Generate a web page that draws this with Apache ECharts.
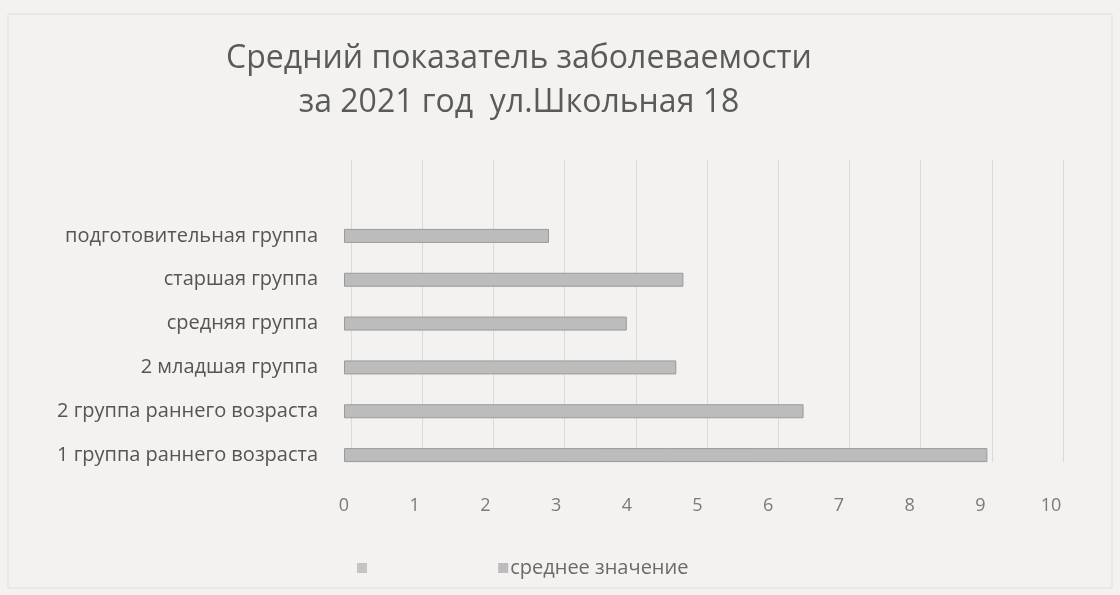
<!DOCTYPE html>
<html><head><meta charset="utf-8">
<script src="https://cdn.jsdelivr.net/npm/echarts@6/dist/echarts.min.js"></script>
<style>html,body{margin:0;padding:0;background:#f3f2f0;}#c{width:1120px;height:595px;}</style>
</head><body><div id="c"></div>
<script>
const categories = ['1 группа раннего возраста','2 группа раннего возраста','2 младшая группа','средняя группа','старшая группа','подготовительная группа'];
const values = [9.1, 6.5, 4.7, 4.0, 4.8, 2.9];
const seriesName = 'среднее значение';
const titleText = 'Средний показатель заболеваемости\nза 2021 год  ул.Школьная 18';
const FONT = '"Open Sans", Lato, sans-serif';

const chart = echarts.init(document.getElementById('c'));
chart.setOption({
  backgroundColor: '#f3f2f0',
  animation: false,
  title: {
    text: titleText, left: 514, textAlign: 'center', top: 32,
    textStyle: {fontFamily: FONT, fontSize: 32, fontWeight: 'normal', color: '#5a5a5a', lineHeight: 44}
  },
  graphic: [{type:'rect', shape:{x:8,y:14,width:1104,height:574}, style:{fill:'none', stroke:'#e2e0dd', lineWidth:1}, silent:true}],
  legend: {
    data: [{name: ' ', icon: 'rect'}, {name: seriesName, icon: 'rect'}], left: 352, top: 553, itemWidth: 10, itemHeight: 10, itemGap: 124,
    itemStyle: {borderWidth: 0},
    textStyle: {fontFamily: FONT, fontSize: 20, color: '#6a6a6a', padding: [0,0,0,-3]}
  },
  grid: [
    {left: 351, right: 57, top: 160, bottom: 133},
    {left: 344, right: 69, top: 214, bottom: 118}
  ],
  xAxis: [
    {gridIndex: 0, type: 'value', min: 0, max: 10, interval: 1,
     axisLabel: {show: false}, axisLine: {show: false}, axisTick: {show: false},
     splitLine: {show: true, lineStyle: {color: '#dcdad7', width: 1}}},
    {gridIndex: 1, type: 'value', min: 0, max: 10, interval: 1,
     axisLine: {show: false}, axisTick: {show: false}, splitLine: {show: false},
     axisLabel: {fontFamily: FONT, fontSize: 18, color: '#7a7a7a', margin: 20}}
  ],
  yAxis: [
    {gridIndex: 0, type: 'category', data: categories, show: false},
    {gridIndex: 1, type: 'category', data: categories,
     axisLine: {show: false}, axisTick: {show: false},
     axisLabel: {fontFamily: FONT, fontSize: 20, color: '#555', margin: 26}}
  ],
  series: [
    {name: ' ', type: 'bar', xAxisIndex: 1, yAxisIndex: 1, data: [], itemStyle: {color: '#c4c4c4'}},
    {name: seriesName, type: 'bar', xAxisIndex: 1, yAxisIndex: 1, data: values, barWidth: 14, barGap: '-100%',
     itemStyle: {color: '#bcbcbc', borderColor: '#9a9a9a', borderWidth: 1}}
  ]
});
</script></body></html>
